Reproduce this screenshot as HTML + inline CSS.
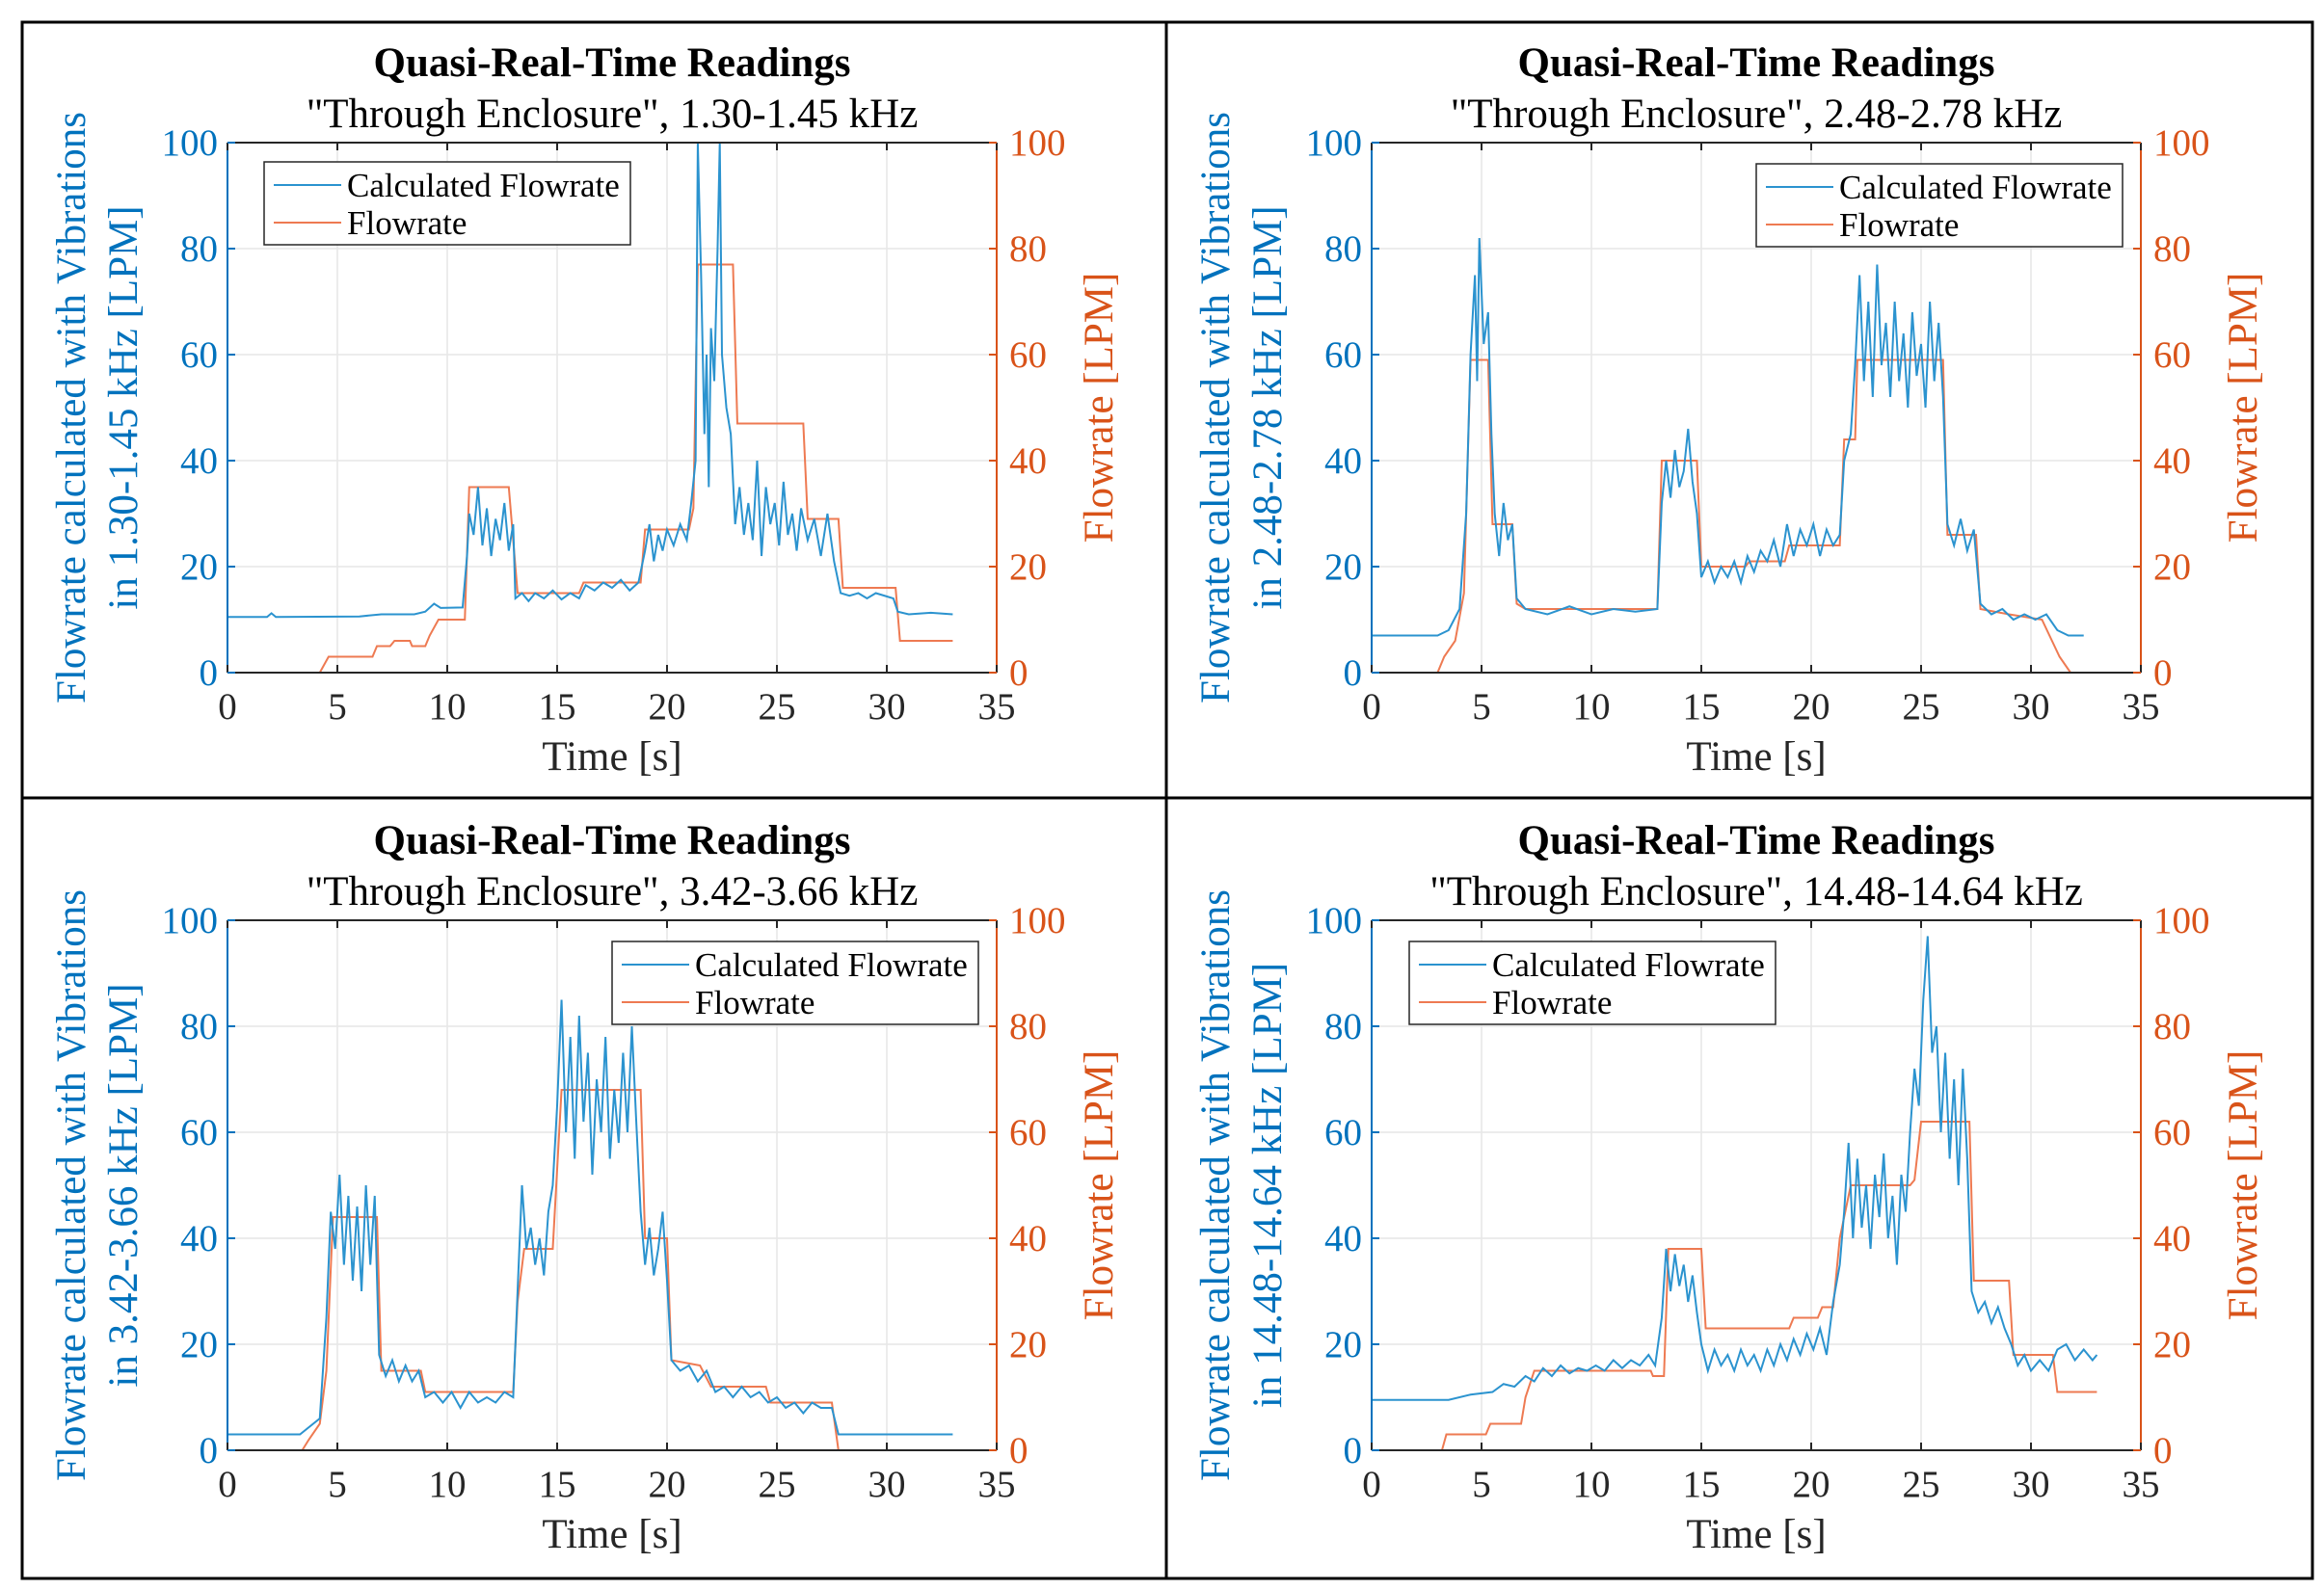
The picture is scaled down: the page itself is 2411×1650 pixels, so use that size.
<!DOCTYPE html>
<html><head><meta charset="utf-8"><style>
html,body{margin:0;padding:0;background:#fff;}
svg{display:block;font-family:"Liberation Serif",serif;}
</style></head><body>
<svg id="fig" width="2411" height="1650" viewBox="0 0 2411 1650" xmlns="http://www.w3.org/2000/svg">
<rect x="23" y="23" width="2376" height="1615" fill="#fff" stroke="#000" stroke-width="3"/>
<line x1="1210" y1="23" x2="1210" y2="1638" stroke="#000" stroke-width="3"/>
<line x1="23" y1="828" x2="2399" y2="828" stroke="#000" stroke-width="3"/>
</svg>
<script>
const xTicks=[0,5,10,15,20,25,30,35];
const yTicks=[0,20,40,60,80,100];
const bands=["1.30-1.45","2.48-2.78","3.42-3.66","14.48-14.64"];
const blue1=[[0,10.5],[1.8,10.5],[2,11.2],[2.2,10.5],[6,10.6],[7,11],[8.5,11],[9,11.5],[9.4,13],[9.7,12.2],[10.7,12.3],[10.9,22],[11,30],[11.2,26],[11.4,35],[11.6,24],[11.8,31],[12,22],[12.2,29],[12.4,25],[12.6,32],[12.8,23],[13,28],[13.1,14],[13.4,15],[13.7,13.5],[14,15],[14.4,14],[14.8,15.5],[15.2,13.8],[15.6,15],[16,14],[16.3,16.5],[16.7,15.5],[17.1,17],[17.5,16],[17.9,17.5],[18.3,15.5],[18.7,17],[19,23],[19.2,28],[19.4,21],[19.6,26],[19.8,23],[20,27],[20.3,24],[20.6,28],[20.9,25],[21.1,32],[21.3,40],[21.4,100],[21.55,75],[21.7,45],[21.8,60],[21.9,35],[22,65],[22.15,55],[22.3,80],[22.4,100],[22.5,60],[22.7,50],[22.9,45],[23.1,28],[23.3,35],[23.5,26],[23.7,32],[23.9,25],[24.1,40],[24.3,22],[24.5,35],[24.7,28],[24.9,32],[25.1,24],[25.3,36],[25.5,26],[25.7,30],[25.9,23],[26.1,31],[26.4,25],[26.7,29],[27,22],[27.3,30],[27.6,21],[27.9,15],[28.3,14.5],[28.7,15],[29.1,14],[29.5,15],[29.9,14.5],[30.3,14],[30.5,11.5],[31,11],[32,11.3],[33,11]];
const red1=[[0,0],[4.2,0],[4.6,3],[6.6,3],[6.8,5],[7.4,5],[7.6,6],[8.3,6],[8.4,5],[9,5],[9.2,7],[9.6,10],[10.8,10],[11,35],[12.8,35],[13.2,15],[16,15],[16.2,17],[18.8,17],[19,27],[21,27],[21.2,31],[21.4,77],[23,77],[23.2,47],[26.2,47],[26.4,29],[27.8,29],[28,16],[30.4,16],[30.6,6],[33,6]];
const blue2=[[0,7],[3,7],[3.5,8],[4,12],[4.3,30],[4.5,60],[4.7,75],[4.8,55],[4.9,82],[5.1,62],[5.3,68],[5.45,45],[5.6,30],[5.8,22],[6,32],[6.2,25],[6.4,28],[6.6,14],[7,12],[8,11],[9,12.5],[10,11],[11,12],[12,11.5],[13,12],[13.2,32],[13.4,40],[13.6,33],[13.8,42],[14,35],[14.2,38],[14.4,46],[14.6,36],[14.8,30],[15,18],[15.3,21],[15.6,17],[15.9,20],[16.2,18],[16.5,21],[16.8,17],[17.1,22],[17.4,19],[17.7,23],[18,21],[18.3,25],[18.6,20],[18.9,28],[19.2,22],[19.5,27],[19.8,24],[20.1,28],[20.4,22],[20.7,27],[21,24],[21.3,26],[21.5,40],[21.8,45],[22,58],[22.2,75],[22.4,55],[22.6,70],[22.8,52],[23,77],[23.2,58],[23.4,66],[23.6,52],[23.8,70],[24,55],[24.2,64],[24.4,50],[24.6,68],[24.8,56],[25,62],[25.2,50],[25.4,70],[25.6,55],[25.8,66],[26,52],[26.2,28],[26.5,24],[26.8,29],[27.1,23],[27.4,27],[27.7,13],[28.2,11],[28.7,12],[29.2,10],[29.7,11],[30.2,10],[30.7,11],[31.2,8],[31.7,7],[32.4,7]];
const red2=[[0,0],[3,0],[3.3,3],[3.8,6],[4.2,15],[4.5,59],[5.3,59],[5.5,28],[6.4,28],[6.6,13],[7,12],[13,12],[13.2,40],[14.8,40],[15,20],[17,20],[17.2,21],[18.8,21],[19,24],[21.3,24],[21.5,44],[22,44],[22.1,59],[26,59],[26.2,26],[27.5,26],[27.7,12],[29,11],[30.5,10],[31.3,3],[31.8,0],[32.4,0]];
const blue3=[[0,3],[3.3,3],[3.6,4],[4.2,6],[4.5,25],[4.7,45],[4.9,38],[5.1,52],[5.3,35],[5.5,48],[5.7,32],[5.9,46],[6.1,30],[6.3,50],[6.5,35],[6.7,48],[6.9,18],[7.2,14],[7.5,17],[7.8,13],[8.1,16],[8.4,13],[8.7,15],[9,10],[9.4,11],[9.8,9],[10.2,11],[10.6,8],[11,11],[11.4,9],[11.8,10],[12.2,9],[12.6,11],[13,10],[13.2,30],[13.4,50],[13.6,38],[13.8,42],[14,35],[14.2,40],[14.4,33],[14.6,45],[14.8,50],[15,65],[15.2,85],[15.4,60],[15.6,78],[15.8,55],[16,82],[16.2,62],[16.4,75],[16.6,52],[16.8,70],[17,60],[17.2,78],[17.4,55],[17.6,68],[17.8,58],[18,75],[18.2,60],[18.4,80],[18.6,62],[18.8,45],[19,35],[19.2,42],[19.4,33],[19.6,38],[19.8,45],[20,32],[20.2,17],[20.6,15],[21,16],[21.4,13],[21.8,15],[22.2,11],[22.6,12],[23,10],[23.4,12],[23.8,10],[24.2,11],[24.6,9],[25,10],[25.4,8],[25.8,9],[26.2,7],[26.6,9],[27,8],[27.5,8],[27.8,3],[33,3]];
const red3=[[0,0],[3.4,0],[3.7,2],[4.2,5],[4.5,15],[4.8,44],[6.8,44],[7,15],[8.8,15],[9,11],[13,11],[13.2,28],[13.5,38],[14.8,38],[15.2,68],[18.8,68],[19,40],[20,40],[20.2,17],[21.5,16],[22,12],[24.5,12],[24.7,9],[27.5,9],[27.8,0],[30,0]];
const blue4=[[0,9.5],[3.5,9.5],[4.5,10.5],[5.5,11],[6,12.5],[6.5,12],[7,14],[7.4,13],[7.8,15.5],[8.2,14],[8.6,16],[9,14.5],[9.4,15.5],[9.8,15],[10.2,16],[10.6,15],[11,17],[11.4,15.5],[11.8,17],[12.2,16],[12.6,18],[12.9,16],[13.2,25],[13.4,38],[13.6,30],[13.8,37],[14,31],[14.2,35],[14.4,28],[14.6,33],[14.8,26],[15,20],[15.3,15],[15.6,19],[15.9,16],[16.2,18],[16.5,15],[16.8,19],[17.1,16],[17.4,18],[17.7,15],[18,19],[18.3,16],[18.6,20],[18.9,17],[19.2,21],[19.5,18],[19.8,22],[20.1,19],[20.4,23],[20.7,18],[21,28],[21.3,35],[21.5,45],[21.7,58],[21.9,40],[22.1,55],[22.3,42],[22.5,50],[22.7,38],[22.9,52],[23.1,44],[23.3,56],[23.5,40],[23.7,48],[23.9,35],[24.1,52],[24.3,45],[24.5,60],[24.7,72],[24.9,65],[25.1,85],[25.3,97],[25.5,75],[25.7,80],[25.9,60],[26.1,75],[26.3,55],[26.5,70],[26.7,50],[26.9,72],[27.1,55],[27.3,30],[27.6,26],[27.9,28],[28.2,24],[28.5,27],[28.8,23],[29.1,20],[29.4,16],[29.7,18],[30,15],[30.4,17],[30.8,15],[31.2,19],[31.6,20],[32,17],[32.4,19],[32.8,17],[33,18]];
const red4=[[0,0],[3.2,0],[3.4,3],[5.2,3],[5.4,5],[6.8,5],[7,10],[7.4,15],[12.7,15],[12.8,14],[13.3,14],[13.5,38],[15,38],[15.2,23],[19,23],[19.2,25],[20.3,25],[20.5,27],[21,27],[21.3,40],[21.8,50],[24.5,50],[24.7,51],[25,62],[27.2,62],[27.4,32],[29,32],[29.2,18],[31,18],[31.2,11],[33,11]];

const NS="http://www.w3.org/2000/svg";
const svg=document.getElementById('fig');
const BLUE="#0072BD", LBLUE="#2b93cf", RED="#D95319", LRED="#ee7a52";
function mk(tag,attrs,parent,txt){const e=document.createElementNS(NS,tag);for(const k in attrs)e.setAttribute(k,attrs[k]);if(txt!==undefined)e.textContent=txt;parent.appendChild(e);return e;}
const panels=[
 {blue:blue1,red:red1,ox:0,oy:0,leg:[274,168]},
 {blue:blue2,red:red2,ox:1187,oy:0,leg:[1822,170]},
 {blue:blue3,red:red3,ox:0,oy:807,leg:[635,977]},
 {blue:blue4,red:red4,ox:1187,oy:807,leg:[1462,977]}];
panels.forEach((p,i)=>{
 const L=236+p.ox,R=1034+p.ox,T=148+p.oy,B=698+p.oy;
 const xs=v=>L+(v-0)/35*(R-L);
 const ys=v=>B-(v/100)*(B-T);
 const g=mk('g',{},svg);
 
 
 const cx=(L+R)/2;
 const t1=mk('text',{x:cx,y:T-69,'text-anchor':'middle','font-size':43,'font-weight':'bold',fill:'#000'},g,'Quasi-Real-Time Readings');
 
 
 const t2=mk('text',{x:cx,y:T-16,'text-anchor':'middle','font-size':43,fill:'#000'},g,'"Through Enclosure", '+bands[i]+' kHz');
 
 
 xTicks.forEach(t=>{const l=mk('line',{x1:xs(t),x2:xs(t),y1:T,y2:B,stroke:'#e6e6e6','stroke-width':1.5},g);
  });
 yTicks.forEach(t=>{const l=mk('line',{x1:L,x2:R,y1:ys(t),y2:ys(t),stroke:'#e6e6e6','stroke-width':1.5},g);
  });
 const rp=mk('polyline',{points:p.red.map(d=>xs(d[0])+','+ys(d[1])).join(' '),fill:'none',stroke:LRED,'stroke-width':2},g);
 
 const bp=mk('polyline',{points:p.blue.map(d=>xs(d[0])+','+ys(Math.min(d[1],100))).join(' '),fill:'none',stroke:LBLUE,'stroke-width':2},g);
 
 const ax=mk('line',{x1:L,x2:R,y1:B,y2:B,stroke:'#262626','stroke-width':2},g);
 
 const ax2=mk('line',{x1:L,x2:R,y1:T,y2:T,stroke:'#262626','stroke-width':2},g);
 
 const ly=mk('line',{x1:L,x2:L,y1:T,y2:B,stroke:BLUE,'stroke-width':2},g);
 
 const ry=mk('line',{x1:R,x2:R,y1:T,y2:B,stroke:RED,'stroke-width':2},g);
 
 xTicks.forEach(t=>{
  mk('line',{x1:xs(t),x2:xs(t),y1:B,y2:B-8,stroke:'#262626','stroke-width':2},g);
  mk('line',{x1:xs(t),x2:xs(t),y1:T,y2:T+8,stroke:'#262626','stroke-width':2},g);
  const tl=mk('text',{x:xs(t),y:B+48,'text-anchor':'middle','font-size':39,fill:'#262626'},g,String(t));
  });
 yTicks.forEach(t=>{
  mk('line',{x1:L,x2:L+8,y1:ys(t),y2:ys(t),stroke:BLUE,'stroke-width':2},g);
  mk('line',{x1:R,x2:R-8,y1:ys(t),y2:ys(t),stroke:RED,'stroke-width':2},g);
  const a=mk('text',{x:L-10,y:ys(t)+13,'text-anchor':'end','font-size':39,fill:BLUE},g,String(t));
  
  const b=mk('text',{x:R+13,y:ys(t)+13,'text-anchor':'start','font-size':39,fill:RED},g,String(t));
  });
 const xl=mk('text',{x:cx,y:B+101,'text-anchor':'middle','font-size':43,fill:'#262626'},g,'Time [s]');
 
 const my=(T+B)/2;
 const yl=mk('text',{transform:`translate(${L-148},${my}) rotate(-90)`,'text-anchor':'middle','font-size':43,fill:BLUE},g);
 
 mk('tspan',{x:0,y:0},yl,'Flowrate calculated with Vibrations');
 mk('tspan',{x:0,y:54},yl,'in '+bands[i]+' kHz [LPM]');
 const yr=mk('text',{transform:`translate(${R+120},${my}) rotate(-90)`,'text-anchor':'middle','font-size':43,fill:RED},g,'Flowrate [LPM]');
 
 const [lx,lyy]=p.leg;
 const lg=mk('g',{},g);
 
 mk('rect',{x:lx,y:lyy,width:380,height:86,fill:'#fff',stroke:'#262626','stroke-width':1.5},lg);
 mk('line',{x1:lx+10,x2:lx+80,y1:lyy+24,y2:lyy+24,stroke:LBLUE,'stroke-width':2},lg);
 mk('line',{x1:lx+10,x2:lx+80,y1:lyy+63,y2:lyy+63,stroke:LRED,'stroke-width':2},lg);
 const e1=mk('text',{x:lx+86,y:lyy+36,'font-size':35,fill:'#000'},lg,'Calculated Flowrate');
 
 const e2=mk('text',{x:lx+86,y:lyy+75,'font-size':35,fill:'#000'},lg,'Flowrate');
 
});
</script>
</body></html>
